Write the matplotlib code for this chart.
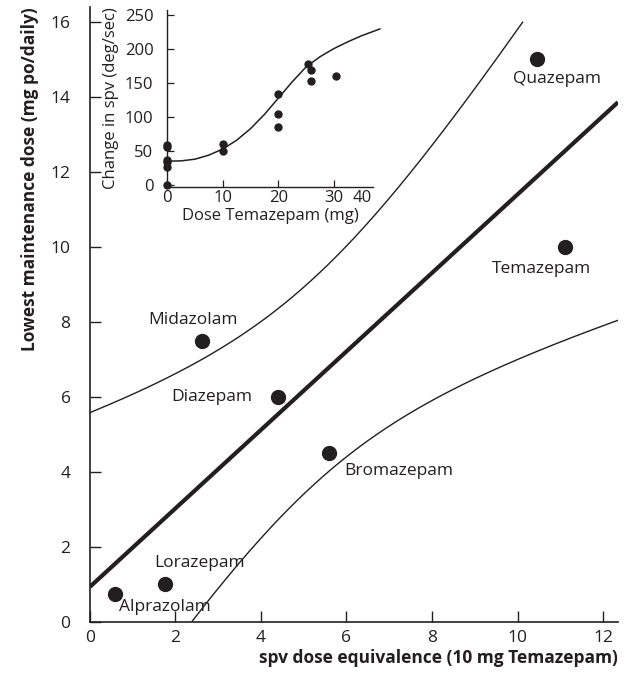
import numpy as np
import matplotlib
matplotlib.use("Agg")
import matplotlib.pyplot as plt

plt.rcParams["font.family"] = ["Open Sans", "DejaVu Sans"]
INK = "#231f20"

# main panel: SPV dose equivalence vs lowest maintenance dose
drugs = ["Alprazolam", "Lorazepam", "Midazolam", "Diazepam", "Bromazepam", "Quazepam", "Temazepam"]
spv_equiv = [0.58, 1.75, 2.62, 4.40, 5.60, 10.45, 11.10]
maint_dose = [0.75, 1.0, 7.5, 6.0, 4.5, 15.0, 10.0]

# inset: change in spv per temazepam dose
inset_dose = [0, 0, 0, 0, 0, 0, 10, 10, 20, 20, 20, 25.4, 25.9, 25.8, 30.4]
inset_spv = [59, 55.5, 37, 34.5, 26, 0, 60.5, 50.7, 134, 105, 85, 178.7, 168.8, 154, 160]
# fitted dose-response curve
curve_dose = [0, 2.5, 5, 7.5, 10, 12.5, 15, 17.5, 20, 22.5, 25, 27.5, 30, 32.5, 35, 38.3]
curve_spv = [35, 35.5, 38, 44, 53, 66, 83, 104, 128, 152, 174, 189, 201, 211, 220, 230]

# label offsets (pixels) and alignment
label_pos = {
    "Alprazolam": (4, -13, "left"),
    "Lorazepam": (-11, 21, "left"),
    "Midazolam": (-9, 21, "center"),
    "Diazepam": (-26, 0, "right"),
    "Bromazepam": (15, -18, "left"),
    "Quazepam": (20, -20, "center"),
    "Temazepam": (-23, -22, "center"),
}

fig = plt.figure(figsize=(6.29, 6.74), dpi=100)
ax = fig.add_axes([0.143, 0.0772, 0.8395, 0.9125])

# OLS fit with 95% confidence band of the mean
x = np.array(spv_equiv)
y = np.array(maint_dose)
n = len(x)
slope, icpt = np.polyfit(x, y, 1)
resid = y - (icpt + slope * x)
s = np.sqrt(np.sum(resid ** 2) / (n - 2))
sxx = np.sum((x - x.mean()) ** 2)
t975 = 2.571  # df = 5
xs = np.linspace(0, 12.35, 300)
fit = icpt + slope * xs
hw = t975 * s * np.sqrt(1.0 / n + (xs - x.mean()) ** 2 / sxx)
upper = np.where(fit + hw <= 16.0, fit + hw, np.nan)
lower = np.where(fit - hw >= 0, fit - hw, np.nan)

ax.plot(xs, fit, color=INK, lw=3.0, solid_capstyle="butt")
ax.plot(xs, upper, color=INK, lw=1.0)
ax.plot(xs, lower, color=INK, lw=1.0)
ax.plot(spv_equiv, maint_dose, "o", color=INK, ms=10, zorder=5)

for name, xv, yv in zip(drugs, spv_equiv, maint_dose):
    dx, dy, ha = label_pos[name]
    ax.annotate(name, (xv, yv), xytext=(dx, dy), textcoords="offset pixels",
                ha=ha, va="center", fontsize=12.5, color=INK)

ax.set_xlim(0, 12.35)
ax.set_ylim(0, 16.4)
ax.set_xticks(range(0, 13, 2))
ax.set_yticks(range(0, 17, 2))
for side in ("top", "right"):
    ax.spines[side].set_visible(False)
for side in ("left", "bottom"):
    ax.spines[side].set_color(INK)
    ax.spines[side].set_linewidth(1.2)
ax.tick_params(direction="in", length=8, width=1.0, color=INK, labelcolor=INK,
               labelsize=12.5)
ax.tick_params(axis="y", pad=14)
ax.tick_params(axis="x", pad=6)
ax.set_xlabel("spv dose equivalence (10 mg Temazepam)", fontsize=12.5,
              fontweight="bold", color=INK, loc="right", labelpad=2)
ax.set_ylabel("Lowest maintenance dose (mg po/daily)", fontsize=12.5,
              fontweight="bold", color=INK, loc="top", labelpad=8)

# inset
axi = fig.add_axes([0.266, 0.7226, 0.3265, 0.2626])
axi.plot(curve_dose, curve_spv, color=INK, lw=1.1, clip_on=False)
axi.plot(inset_dose, inset_spv, "o", color=INK, ms=5, clip_on=False, zorder=5)
axi.set_xlim(0, 37)
axi.set_ylim(-3, 258)
axi.set_xticks([0, 10, 20, 30])
axi.set_yticks(range(0, 251, 50))
axi.patch.set_alpha(0)
for side in ("top", "right"):
    axi.spines[side].set_visible(False)
for side in ("left", "bottom"):
    axi.spines[side].set_color(INK)
    axi.spines[side].set_linewidth(1.0)
axi.tick_params(direction="in", length=5, width=0.9, color=INK, labelcolor=INK,
                labelsize=12)
axi.tick_params(axis="y", pad=10)
axi.tick_params(axis="x", pad=2)
axi.annotate("40", (35.2, 0), xycoords=axi.get_xaxis_transform(),
             xytext=(0, -2), textcoords="offset points", ha="center", va="top",
             fontsize=12, color=INK)
axi.set_xlabel("Dose Temazepam (mg)", fontsize=12, color=INK, labelpad=1.5)
axi.set_ylabel("Change in spv (deg/sec)", fontsize=12, color=INK, labelpad=4)

fig.savefig("out.png", dpi=100, facecolor="white")
